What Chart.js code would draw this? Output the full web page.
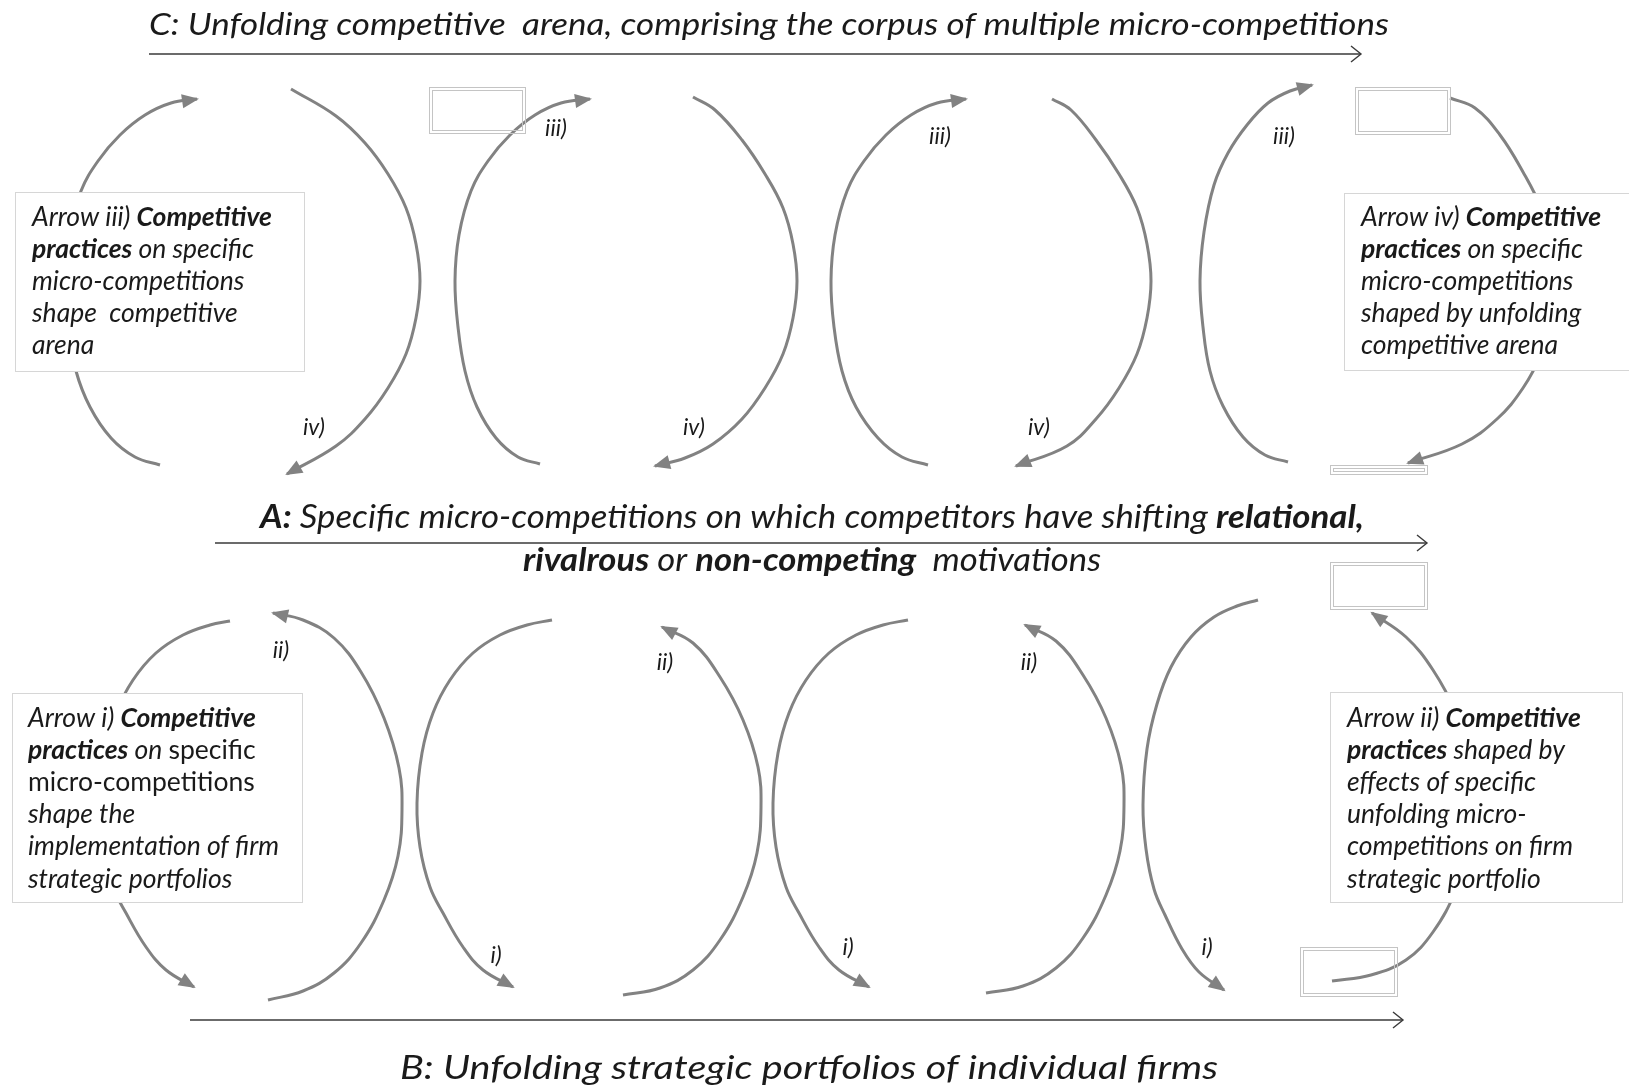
<!DOCTYPE html>
<html>
<head>
<meta charset="utf-8">
<title>Micro-competitions diagram</title>
<script src="https://cdn.jsdelivr.net/npm/chart.js@4.4.1/dist/chart.umd.min.js"></script>
<style>
    html, body { margin: 0; padding: 0; background: #ffffff; }
    canvas { display: block; }
</style>
</head>
<body>
<canvas id="diagram" width="1629" height="1090"></canvas>
<script>
// arcs of the upper row (C <-> A), [x, y]; last point carries the arrowhead
const arcTop1 = [[160, 465], [135, 457], [111, 438], [90, 407], [76, 371], [68, 327], [65, 281], [69, 235],
    [81, 191], [98, 161], [120, 135], [145, 115], [171, 103], [197, 99]];
const arcTop2 = [[291, 89], [336, 116], [365, 143], [388, 174], [406, 208], [416, 244], [420, 281], [416, 318],
    [406, 354], [388, 388], [365, 419], [336, 446], [287, 474]];
const arcTop3 = [[540, 464], [518, 457], [496, 438], [477, 407], [465, 371], [458, 327], [455, 281], [459, 235],
    [471, 191], [488, 161], [510, 135], [535, 115], [561, 103], [590, 99]];
const arcTop4 = [[693, 97], [715, 110], [742, 140], [765, 174], [783, 208], [793, 244], [797, 281], [793, 318],
    [783, 354], [765, 388], [742, 419], [713, 444], [685, 458], [655, 466]];
const arcTop5 = [[928, 465], [902, 457], [878, 438], [856, 407], [842, 371], [834, 327], [831, 281], [835, 235],
    [847, 191], [864, 161], [886, 135], [911, 115], [937, 103], [966, 99]];
const arcTop6 = [[1052, 99], [1071, 110], [1096, 140], [1119, 174], [1137, 208], [1147, 244], [1151, 281], [1147, 318],
    [1137, 354], [1119, 388], [1096, 419], [1067, 446], [1016, 466]];
const arcTop7 = [[1288, 462], [1265, 455], [1243, 437], [1223, 406], [1210, 371], [1203, 327], [1200, 281], [1204, 232],
    [1214, 185], [1228, 153], [1247, 125], [1268, 103], [1290, 91], [1312, 85]];
const arcTop8 = [[1450, 98], [1475, 108], [1500, 135], [1523, 172], [1541, 208], [1551, 244], [1555, 281], [1551, 318],
    [1541, 354], [1523, 388], [1497, 419], [1462, 444], [1408, 463]];

// arcs of the lower row (A <-> B)
const arcBot1 = [[230, 621], [210, 625], [183, 635], [156, 653], [133, 680], [116, 713], [105, 753], [100, 803],
    [103, 847], [113, 887], [126, 913], [146, 947], [166, 970], [194, 987]];
const arcBot2 = [[268, 1000], [303, 991], [334, 973], [361, 943], [384, 900], [398, 856], [402, 810], [399, 768],
    [384, 718], [361, 672], [334, 638], [303, 620], [273, 613]];
const arcBot3 = [[552, 620], [527, 625], [500, 635], [473, 653], [450, 680], [433, 713], [422, 753], [417, 803],
    [420, 847], [430, 887], [443, 913], [463, 947], [483, 970], [513, 987]];
const arcBot4 = [[623, 995], [660, 988], [693, 970], [720, 940], [743, 897], [757, 853], [761, 807], [758, 767],
    [743, 720], [720, 677], [693, 643], [662, 627]];
const arcBot5 = [[908, 620], [883, 625], [856, 635], [829, 653], [806, 680], [789, 713], [778, 753], [773, 803],
    [776, 847], [786, 887], [799, 913], [819, 947], [839, 970], [869, 987]];
const arcBot6 = [[986, 993], [1023, 986], [1056, 968], [1083, 938], [1106, 895], [1120, 851], [1124, 805], [1121, 765],
    [1106, 718], [1083, 675], [1056, 641], [1025, 625]];
const arcBot7 = [[1258, 600], [1237, 606], [1214, 617], [1191, 637], [1171, 667], [1157, 704], [1147, 749], [1143, 805],
    [1146, 849], [1154, 889], [1165, 915], [1182, 949], [1199, 972], [1224, 990]];
const arcBot8 = [[1332, 981], [1371, 975], [1406, 960], [1433, 932], [1456, 890], [1470, 846], [1474, 800], [1471, 760],
    [1456, 713], [1433, 670], [1406, 637], [1372, 613]];

// the three axis arrows
const axisC = [[149, 54], [1361, 54]];
const axisA = [[215, 543], [1427, 543]];
const axisB = [[190, 1020], [1403, 1020]];

// small roman labels next to the arrows
const arcLabels = ['iv)', 'iii)', 'iv)', 'iii)', 'iv)', 'iii)', 'ii)', 'i)', 'ii)', 'i)', 'ii)', 'i)'];
const arcLabelPoints = [[314, 428], [556, 129], [694, 428], [940, 137], [1039, 428], [1284, 137],
    [281, 651], [496, 956], [665, 663], [848, 948], [1029, 663], [1207, 948]];

// text of the four explanation boxes: [text, style]
const boxTopLeft = [
    [['Arrow iii) ', 'italic'], ['Competitive', 'italic bold']],
    [['practices', 'italic bold'], [' on specific', 'italic']],
    [['micro-competitions', 'italic']],
    [['shape  competitive', 'italic']],
    [['arena', 'italic']]
];
const boxTopRight = [
    [['Arrow iv) ', 'italic'], ['Competitive', 'italic bold']],
    [['practices', 'italic bold'], [' on specific', 'italic']],
    [['micro-competitions', 'italic']],
    [['shaped by unfolding', 'italic']],
    [['competitive arena', 'italic']]
];
const boxBottomLeft = [
    [['Arrow i) ', 'italic'], ['Competitive', 'italic bold']],
    [['practices', 'italic bold'], [' on ', 'italic'], ['specific', 'normal']],
    [['micro-competitions', 'normal']],
    [['shape the', 'italic']],
    [['implementation of firm', 'italic']],
    [['strategic portfolios', 'italic']]
];
const boxBottomRight = [
    [['Arrow ii) ', 'italic'], ['Competitive', 'italic bold']],
    [['practices', 'italic bold'], [' shaped by', 'italic']],
    [['effects of specific', 'italic']],
    [['unfolding micro-', 'italic']],
    [['competitions on firm', 'italic']],
    [['strategic portfolio', 'italic']]
];

const titleC = [['C: Unfolding competitive  arena, comprising the corpus of multiple micro-competitions', 'italic']];
const titleA1 = [['A:', 'italic bold'], [' Specific micro-competitions on which competitors have shifting ', 'italic'], ['relational,', 'italic bold']];
const titleA2 = [['rivalrous', 'italic bold'], [' or ', 'italic'], ['non-competing', 'italic bold'], ['  motivations', 'italic']];
const titleB = [['B: Unfolding strategic portfolios of individual firms', 'italic']];

const FONT = 'Lato, "Open Sans", sans-serif';
const ARC_COLOR = '#828282';

function toPoints(list) {
    return list.map(p => ({ x: p[0], y: p[1] }));
}

function arcDataset(list) {
    return {
        data: toPoints(list),
        showLine: true,
        borderColor: ARC_COLOR,
        borderWidth: 3,
        tension: 0.4,
        pointRadius: 0,
        arrow: 'head'
    };
}

function axisDataset(list) {
    return {
        data: toPoints(list),
        showLine: true,
        borderColor: '#3a3a3a',
        borderWidth: 1.6,
        tension: 0,
        pointRadius: 0,
        arrow: 'open'
    };
}

function drawRich(ctx, segs, x, y, size, fitWidth) {
    let total = 0;
    segs.forEach(s => {
        ctx.font = s[1] + ' ' + size + 'px ' + FONT;
        total += ctx.measureText(s[0]).width;
    });
    ctx.save();
    ctx.translate(x, y);
    if (fitWidth) ctx.scale(fitWidth / total, 1);
    let cx = 0;
    segs.forEach(s => {
        ctx.font = s[1] + ' ' + size + 'px ' + FONT;
        ctx.fillText(s[0], cx, 0);
        cx += ctx.measureText(s[0]).width;
    });
    ctx.restore();
}

function drawTextBox(ctx, x, y, w, h, lines, tx, ty) {
    ctx.fillStyle = '#ffffff';
    ctx.fillRect(x, y, w, h);
    ctx.strokeStyle = '#d6d6d6';
    ctx.lineWidth = 1;
    ctx.strokeRect(x + 0.5, y + 0.5, w, h);
    ctx.fillStyle = '#1a1a1a';
    lines.forEach((segs, i) => drawRich(ctx, segs, tx, ty + i * 32.2, 26.5));
}

function drawEmptyBox(ctx, x, y, w, h) {
    ctx.strokeStyle = '#c4c4c4';
    ctx.lineWidth = 1;
    ctx.strokeRect(x + 0.5, y + 0.5, w, h);
    ctx.strokeRect(x + 3.5, y + 3.5, w - 6, h - 6);
}

const diagramPlugin = {
    id: 'diagram',
    afterDatasetsDraw(chart) {
        const ctx = chart.ctx;
        chart.data.datasets.forEach((ds, i) => {
            if (!ds.arrow) return;
            const pts = chart.getDatasetMeta(i).data;
            const tip = pts[pts.length - 1];
            const prev = pts[pts.length - 2];
            const ang = Math.atan2(tip.y - prev.y, tip.x - prev.x);
            ctx.save();
            ctx.translate(tip.x, tip.y);
            ctx.rotate(ang);
            if (ds.arrow === 'head') {
                ctx.fillStyle = ARC_COLOR;
                ctx.beginPath();
                ctx.moveTo(2, 0);
                ctx.lineTo(-15, -7);
                ctx.lineTo(-15, 7);
                ctx.closePath();
                ctx.fill();
            } else {
                ctx.strokeStyle = '#3a3a3a';
                ctx.lineWidth = 1.4;
                ctx.beginPath();
                ctx.moveTo(-10, -8);
                ctx.lineTo(0, 0);
                ctx.lineTo(-10, 8);
                ctx.stroke();
            }
            ctx.restore();
        });
    },
    afterDraw(chart) {
        const ctx = chart.ctx;
        const xs = chart.scales.x;
        const ys = chart.scales.y;

        drawEmptyBox(ctx, xs.getPixelForValue(429), ys.getPixelForValue(87), 96, 46);
        drawEmptyBox(ctx, xs.getPixelForValue(1355), ys.getPixelForValue(87), 95, 47);
        drawEmptyBox(ctx, xs.getPixelForValue(1330), ys.getPixelForValue(465), 97, 9);
        drawEmptyBox(ctx, xs.getPixelForValue(1330), ys.getPixelForValue(562), 97, 47);
        drawEmptyBox(ctx, xs.getPixelForValue(1300), ys.getPixelForValue(947), 97, 49);

        ctx.textBaseline = 'middle';
        drawTextBox(ctx, 15, 192, 289, 179, boxTopLeft, 32, 217);
        drawTextBox(ctx, 1344, 193, 290, 177, boxTopRight, 1361, 217);
        drawTextBox(ctx, 12, 693, 290, 209, boxBottomLeft, 28, 718);
        drawTextBox(ctx, 1330, 692, 292, 210, boxBottomRight, 1347, 718);

        ctx.fillStyle = '#1a1a1a';
        arcLabels.forEach((t, i) => {
            const p = arcLabelPoints[i];
            ctx.font = 'italic 23px ' + FONT;
            ctx.textAlign = 'center';
            ctx.fillText(t, xs.getPixelForValue(p[0]), ys.getPixelForValue(p[1]));
        });
        ctx.textAlign = 'left';

        drawRich(ctx, titleC, 149, 25, 31, 1240);
        drawRich(ctx, titleA1, 260, 518, 32, 1104);
        drawRich(ctx, titleA2, 523, 561, 32, 578);
        drawRich(ctx, titleB, 400, 1069, 32, 818);
    }
};

document.addEventListener('DOMContentLoaded', function () {
    const datasets = [
        arcTop1, arcTop2, arcTop3, arcTop4, arcTop5, arcTop6, arcTop7, arcTop8,
        arcBot1, arcBot2, arcBot3, arcBot4, arcBot5, arcBot6, arcBot7, arcBot8
    ].map(arcDataset);
    datasets.push(axisDataset(axisC), axisDataset(axisA), axisDataset(axisB));

    const diagramElement = document.getElementById('diagram');

    const diagram = new Chart(diagramElement, {
        type: 'scatter',
        data: { datasets: datasets },
        options: {
            responsive: false,
            animation: false,
            layout: { padding: 0 },
            plugins: {
                legend: { display: false },
                tooltip: { enabled: false }
            },
            scales: {
                x: { type: 'linear', min: 0, max: 1629, display: false },
                y: { type: 'linear', min: 0, max: 1090, reverse: true, display: false }
            }
        },
        plugins: [diagramPlugin]
    });
});
</script>
</body>
</html>
